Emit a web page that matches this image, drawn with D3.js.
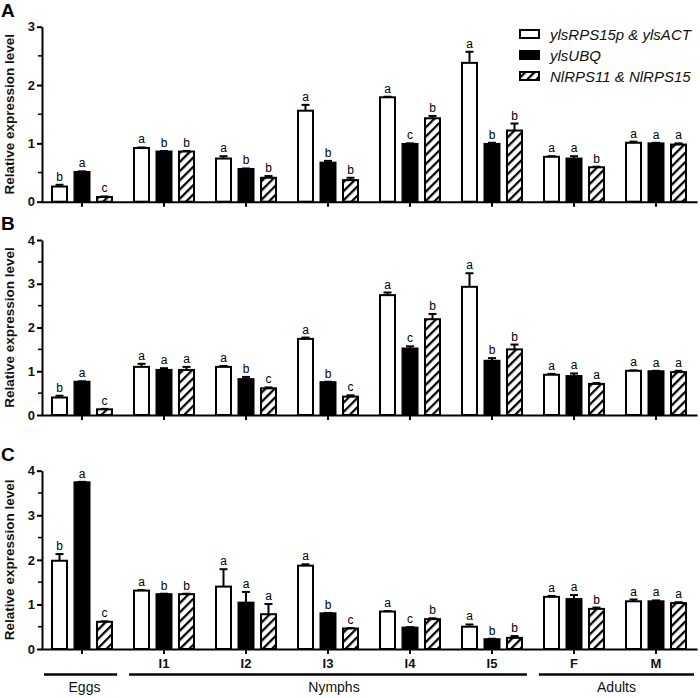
<!DOCTYPE html>
<html>
<head>
<meta charset="utf-8">
<script src="https://cdn.jsdelivr.net/npm/d3@7"></script>
<style>
  body { margin: 0; background: #fff; }
  svg { display: block; font-family: "Liberation Sans", Arial, sans-serif; }
</style>
</head>
<body>
<svg id="chart" width="700" height="698"></svg>
<script>
// categories & series
const stages = ["Eggs", "I1", "I2", "I3", "I4", "I5", "F", "M"];
const stageLabels = ["", "I1", "I2", "I3", "I4", "I5", "F", "M"];
const series = ["ylsRPS15p & ylsACT", "ylsUBQ", "NlRPS11 & NlRPS15"];

// panel A
const valuesA = [
  [0.26, 0.92, 0.74, 1.56, 1.79, 2.38, 0.77, 1.01],
  [0.51, 0.86, 0.56, 0.67, 0.99, 0.99, 0.74, 1.00],
  [0.08, 0.86, 0.41, 0.37, 1.43, 1.22, 0.59, 0.98]];
const errorsA = [
  [0.03, 0.01, 0.04, 0.10, 0.01, 0.19, 0.01, 0.02],
  [0.01, 0.01, 0.01, 0.03, 0.01, 0.02, 0.04, 0.01],
  [0.01, 0.01, 0.03, 0.04, 0.04, 0.12, 0.01, 0.02]];
const lettersA = [
  ["b", "a", "a", "a", "a", "a", "a", "a"],
  ["a", "b", "b", "b", "c", "b", "a", "a"],
  ["c", "b", "b", "b", "b", "b", "b", "a"]];

// panel B
const valuesB = [
  [0.40, 1.10, 1.10, 1.74, 2.74, 2.93, 0.92, 1.01],
  [0.76, 1.03, 0.82, 0.75, 1.52, 1.24, 0.89, 1.00],
  [0.13, 1.03, 0.61, 0.42, 2.19, 1.50, 0.71, 0.98]];
const errorsB = [
  [0.04, 0.07, 0.02, 0.03, 0.06, 0.31, 0.02, 0.01],
  [0.01, 0.04, 0.05, 0.01, 0.05, 0.06, 0.06, 0.01],
  [0.01, 0.07, 0.02, 0.03, 0.12, 0.11, 0.02, 0.03]];
const lettersB = [
  ["b", "a", "a", "a", "a", "a", "a", "a"],
  ["a", "a", "b", "b", "c", "b", "a", "a"],
  ["c", "a", "c", "c", "b", "b", "a", "a"]];

// panel C
const valuesC = [
  [1.98, 1.31, 1.40, 1.87, 0.84, 0.50, 1.17, 1.07],
  [3.74, 1.23, 1.04, 0.80, 0.48, 0.22, 1.12, 1.07],
  [0.61, 1.23, 0.78, 0.46, 0.67, 0.25, 0.90, 1.03]];
const errorsC = [
  [0.15, 0.01, 0.39, 0.03, 0.01, 0.05, 0.02, 0.04],
  [0.01, 0.01, 0.24, 0.01, 0.01, 0.01, 0.09, 0.02],
  [0.01, 0.01, 0.23, 0.01, 0.02, 0.04, 0.03, 0.02]];
const lettersC = [
  ["b", "a", "a", "a", "a", "a", "a", "a"],
  ["a", "b", "a", "b", "c", "b", "a", "a"],
  ["c", "b", "a", "c", "b", "b", "b", "a"]];

// group brackets under panel C
const groups = ["Eggs", "Nymphs", "Adults"];
const groupSpans = [["Eggs", "Eggs"], ["I1", "I5"], ["F", "M"]];

const panels = [
  { name: "A", values: valuesA, errors: errorsA, letters: lettersA, max: 3, top: 26.7, bottom: 201.7 },
  { name: "B", values: valuesB, errors: errorsB, letters: lettersB, max: 4, top: 240, bottom: 415 },
  { name: "C", values: valuesC, errors: errorsC, letters: lettersC, max: 4, top: 470.7, bottom: 649 }];

const svg = d3.select("#chart");
const left = 42, right = 697;

// hatch pattern
const defs = svg.append("defs");
defs.append("pattern")
  .attr("id", "hatch")
  .attr("patternUnits", "userSpaceOnUse")
  .attr("width", 6.5).attr("height", 6.5)
  .attr("patternTransform", "rotate(45)")
  .call(p => {
    p.append("rect").attr("width", 6.5).attr("height", 6.5).attr("fill", "#fff");
    p.append("line").attr("x1", 0).attr("y1", 0).attr("x2", 0).attr("y2", 6.5)
      .attr("stroke", "#000").attr("stroke-width", 4.5);
  });

const fills = ["#fff", "#000", "url(#hatch)"];

const x = d3.scaleBand().domain(stages).range([left - 1, right]);
const xs = d3.scaleBand().domain(series).range([-30, 30]).paddingInner(0.333);

panels.forEach((p, pi) => {
  const y = d3.scaleLinear().domain([0, p.max]).range([p.bottom, p.top]);
  const g = svg.append("g");

  // panel letter
  g.append("text")
    .attr("x", 1).attr("y", p.top - 10)
    .attr("font-size", 19).attr("font-weight", "bold")
    .text(p.name);

  // y axis title
  g.append("text")
    .attr("transform", `translate(14,${(p.top + p.bottom) / 2}) rotate(-90)`)
    .attr("text-anchor", "middle")
    .attr("font-size", 13.5).attr("font-weight", "bold").attr("fill", "#111")
    .text("Relative expression level");

  // bars
  stages.forEach((s, i) => {
    series.forEach((ser, k) => {
      const v = p.values[k][i];
      const e = p.errors[k][i];
      const bx = x(s) + x.bandwidth() / 2 + xs(ser);
      const bw = xs.bandwidth();
      const cx = bx + bw / 2;
      // error bar
      g.append("line")
        .attr("x1", cx).attr("x2", cx)
        .attr("y1", y(v)).attr("y2", y(v + e))
        .attr("stroke", "#000").attr("stroke-width", 2);
      g.append("line")
        .attr("x1", cx - 4).attr("x2", cx + 4)
        .attr("y1", y(v + e)).attr("y2", y(v + e))
        .attr("stroke", "#000").attr("stroke-width", 2);
      g.append("rect")
        .attr("x", bx).attr("y", y(v))
        .attr("width", bw).attr("height", y(0) - y(v))
        .attr("fill", fills[k])
        .attr("stroke", "#000").attr("stroke-width", 2);
      g.append("text")
        .attr("x", cx).attr("y", y(v + e) - 4)
        .attr("text-anchor", "middle")
        .attr("font-size", 12).attr("fill", "#000")
        .text(p.letters[k][i]);
    });
  });

  // y axis
  const yAxis = g.append("g")
    .attr("transform", `translate(${left},0)`)
    .call(d3.axisLeft(y).tickValues(d3.range(0, p.max + 1)).tickSize(5).tickSizeOuter(0).tickPadding(2).tickFormat(d3.format("d")));
  yAxis.select(".domain").attr("stroke-width", 2);
  yAxis.selectAll(".tick line").attr("stroke-width", 2);
  yAxis.selectAll(".tick text").attr("font-size", 13).attr("font-weight", "bold").attr("font-family", "Liberation Sans, Arial, sans-serif").attr("fill", "#111");
  // minor ticks
  g.append("g").selectAll("line")
    .data(d3.range(0.5, p.max, 1))
    .join("line")
    .attr("x1", left - 4).attr("x2", left)
    .attr("y1", d => y(d)).attr("y2", d => y(d))
    .attr("stroke", "#000").attr("stroke-width", 1.5);

  // x axis
  const xAxis = g.append("g")
    .attr("transform", `translate(0,${p.bottom})`)
    .call(d3.axisBottom(x).tickSize(5).tickSizeOuter(0).tickPadding(5)
      .tickFormat((d, i) => pi === 2 ? stageLabels[i] : ""));
  xAxis.select(".domain").attr("stroke-width", 2);
  xAxis.selectAll(".tick line").attr("stroke-width", 2);
  xAxis.selectAll(".tick text").attr("font-size", 13).attr("font-weight", "bold").attr("font-family", "Liberation Sans, Arial, sans-serif").attr("fill", "#111");
});

// group lines under panel C
const lineY = 674.5;
const gap = 6;
groups.forEach((name, i) => {
  const [a, b] = groupSpans[i];
  let x0 = x(a), x1 = x(b) + x.bandwidth();
  if (i === 0) x0 = left - 4;
  x0 += gap; x1 -= gap;
  if (i === 2) x1 = 694;
  svg.append("line")
    .attr("x1", x0).attr("x2", x1).attr("y1", lineY).attr("y2", lineY)
    .attr("stroke", "#000").attr("stroke-width", 2.5);
  svg.append("text")
    .attr("x", (x0 + x1) / 2 + (i === 0 ? 4 : i === 1 ? 6 : 0)).attr("y", 692)
    .attr("text-anchor", "middle")
    .attr("font-size", 14).attr("fill", "#111")
    .text(name);
});

// legend
const legend = svg.append("g").attr("transform", "translate(520,34)");
series.forEach((s, k) => {
  const row = legend.append("g").attr("transform", `translate(0,${k * 21})`);
  row.append("rect")
    .attr("x", 0).attr("y", -4).attr("width", 19).attr("height", 8)
    .attr("fill", fills[k]).attr("stroke", "#000").attr("stroke-width", 2);
  row.append("text")
    .attr("x", 30).attr("y", 5.5)
    .attr("font-size", 15).attr("font-style", "italic").attr("fill", "#111")
    .text(s);
});
</script>
</body>
</html>
